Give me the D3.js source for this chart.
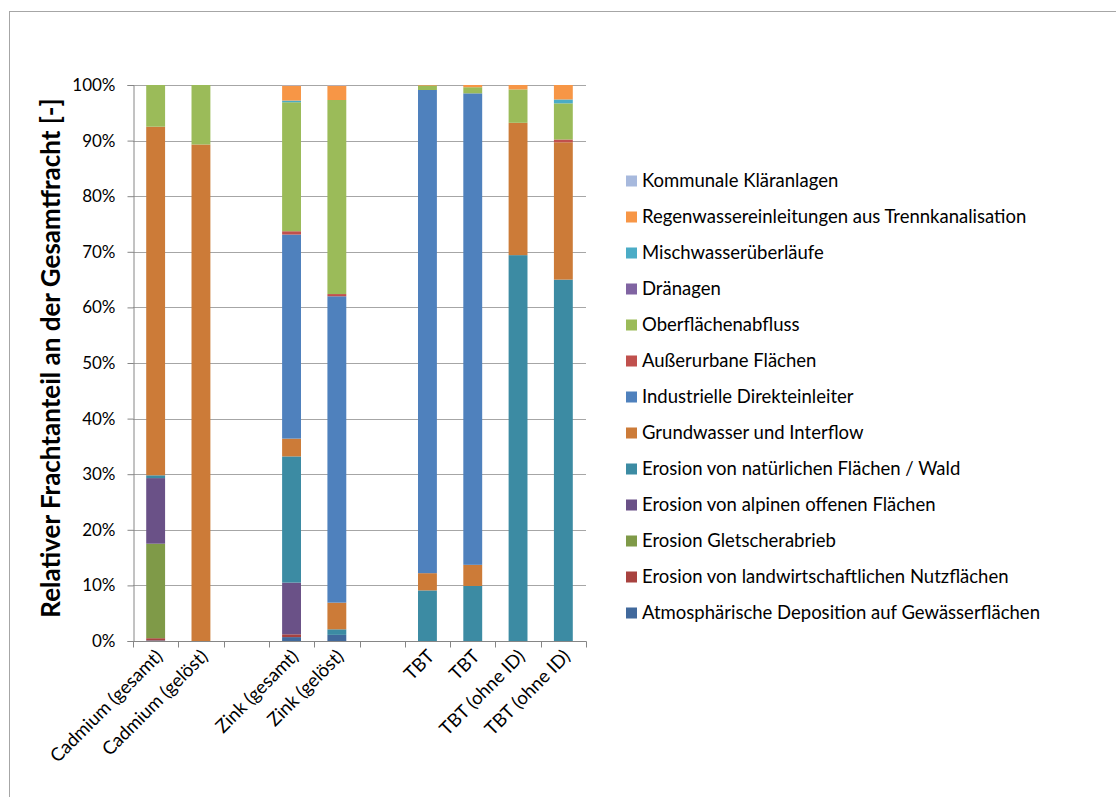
<!DOCTYPE html>
<html>
<head>
<meta charset="utf-8">
<script src="https://cdn.jsdelivr.net/npm/d3@7"></script>
<style>
  html, body { margin: 0; padding: 0; background: #fff; }
  svg { display: block; }
  text { font-family: Lato, "Open Sans", sans-serif; fill: #000; }
</style>
</head>
<body>
<svg id="chart" width="1116" height="797"></svg>
<script>
// ---------- data ----------
const categories = ["Cadmium (gesamt)", "Cadmium (gelöst)", "", "Zink (gesamt)", "Zink (gelöst)", "", "TBT", "TBT", "TBT (ohne ID)", "TBT (ohne ID)"];

// series listed bottom-to-top in stacking order (values in %)
const atmosphaerisch   = [0.1, 0,    0, 0.7,  1.1,  0, 0,    0,    0,    0];
const landwirtschaft   = [0.4, 0,    0, 0.5,  0,    0, 0,    0,    0,    0];
const gletscher        = [17.0, 0,   0, 0,    0,    0, 0,    0,    0,    0];
const alpin            = [11.8, 0,   0, 9.3,  0,    0, 0,    0,    0,    0];
const natuerlich       = [0.5, 0,    0, 22.7, 1.0,  0, 9.1,  9.9,  69.4, 65.0];
const grundwasser      = [62.7, 89.3, 0, 3.2, 4.8,  0, 3.1,  3.8,  23.8, 24.7];
const industrie        = [0,   0,    0, 36.7, 55.1, 0, 86.9, 84.8, 0,    0];
const ausserurban      = [0,   0,    0, 0.6,  0.4,  0, 0,    0,    0,    0.5];
const oberflaeche      = [7.5, 10.7, 0, 23.2, 34.9, 0, 0.8,  1.1,  6.0,  6.5];
const draenagen        = [0,   0,    0, 0,    0,    0, 0,    0,    0,    0];
const mischwasser      = [0,   0,    0, 0.3,  0,    0, 0,    0,    0,    0.7];
const regenwasser      = [0,   0,    0, 2.7,  2.6,  0, 0.1,  0.4,  0.8,  2.6];
const kommunal         = [0,   0,    0, 0.1,  0.1,  0, 0,    0,    0,    0];

const seriesNames = [
  "Atmosphärische Deposition auf Gewässerflächen",
  "Erosion von landwirtschaftlichen Nutzflächen",
  "Erosion Gletscherabrieb",
  "Erosion von alpinen offenen Flächen",
  "Erosion von natürlichen Flächen / Wald",
  "Grundwasser und Interflow",
  "Industrielle Direkteinleiter",
  "Außerurbane Flächen",
  "Oberflächenabfluss",
  "Dränagen",
  "Mischwasserüberläufe",
  "Regenwassereinleitungen aus Trennkanalisation",
  "Kommunale Kläranlagen"
];
const seriesValues = [atmosphaerisch, landwirtschaft, gletscher, alpin, natuerlich, grundwasser,
  industrie, ausserurban, oberflaeche, draenagen, mischwasser, regenwasser, kommunal];
const seriesColors = ["#41699c", "#a8423f", "#7f9a48", "#6a5187", "#3c8ba3", "#cc7b38",
  "#4f81bd", "#c0504d", "#9bbb59", "#8064a2", "#4bacc6", "#f79646", "#a7b9dd"];

const yTicks = [0, 10, 20, 30, 40, 50, 60, 70, 80, 90, 100];
const yTitle = "Relativer Frachtanteil an der Gesamtfracht [-]";

// ---------- layout ----------
const svg = d3.select("#chart");
const plot = { left: 133, right: 586, top: 85, bottom: 641 };

// chart border (extends beyond the viewport)
svg.append("rect").attr("x", 9.5).attr("y", 11.5).attr("width", 1200).attr("height", 900)
  .attr("fill", "none").attr("stroke", "#a6a6a6").attr("stroke-width", 1);

const x = d3.scaleBand().domain(d3.range(categories.length))
  .range([plot.left, plot.right]).paddingInner(1.4 / 2.4).paddingOuter(0.7 / 2.4);
const slot = (plot.right - plot.left) / categories.length;
const y = d3.scaleLinear().domain([0, 100]).range([plot.bottom, plot.top]);

// gridlines
svg.append("g").selectAll("line").data(yTicks.filter(d => d > 0)).join("line")
  .attr("x1", plot.left).attr("x2", plot.right)
  .attr("y1", d => Math.round(y(d)) + 0.5).attr("y2", d => Math.round(y(d)) + 0.5)
  .attr("stroke", "#a6a6a6").attr("stroke-width", 1);

// stacked data
const table = categories.map((c, i) => {
  const o = { idx: i };
  seriesNames.forEach((s, k) => { o[s] = seriesValues[k][i]; });
  return o;
});
const stack = d3.stack().keys(seriesNames);
const stacked = stack(table);

svg.append("g").selectAll("g").data(stacked).join("g")
  .attr("fill", (d, k) => seriesColors[k])
  .selectAll("rect").data(d => d.filter(p => p[1] - p[0] > 0)).join("rect")
  .attr("x", d => x(d.data.idx))
  .attr("width", x.bandwidth())
  .attr("y", d => y(d[1]))
  .attr("height", d => y(d[0]) - y(d[1]));

// y axis
const yAxis = d3.axisLeft(y).tickValues(yTicks).tickFormat(d => d + "%").tickSize(6).tickPadding(12);
const gy = svg.append("g").attr("transform", `translate(${plot.left + 0.5},0)`).call(yAxis);
gy.select(".domain").attr("stroke", "#868686");
gy.selectAll(".tick line").attr("stroke", "#868686");
gy.selectAll(".tick text").attr("font-size", 17).attr("font-family", "Lato, sans-serif").attr("fill", "#000");

// x axis (ticks at category boundaries)
const gx = svg.append("g").attr("transform", `translate(0,${plot.bottom + 0.5})`);
gx.append("line").attr("x1", plot.left).attr("x2", plot.right + 0.5).attr("stroke", "#868686");
gx.selectAll("line.tk").data(d3.range(categories.length + 1)).join("line").attr("class", "tk")
  .attr("x1", i => Math.round(plot.left + i * slot) + 0.5).attr("x2", i => Math.round(plot.left + i * slot) + 0.5)
  .attr("y1", 0).attr("y2", 6).attr("stroke", "#868686");
gx.selectAll("text").data(categories.map((c, i) => ({ c, i })).filter(d => d.c !== "")).join("text")
  .attr("text-anchor", "end")
  .attr("font-size", 18.5)
  .attr("transform", d => `translate(${x(d.i) + x.bandwidth() / 2 + 8},${16}) rotate(-45)`)
  .text(d => d.c);

// y title
svg.append("text")
  .attr("transform", `translate(60,358) rotate(-90)`)
  .attr("text-anchor", "middle")
  .attr("font-size", 26).attr("font-weight", "bold")
  .text(yTitle);

// legend (reverse order: top entry is the last series)
const legendItems = seriesNames.map((s, k) => ({ s, c: seriesColors[k] })).reverse();
const lg = svg.append("g");
const row = lg.selectAll("g").data(legendItems).join("g")
  .attr("transform", (d, i) => `translate(626,${181 + i * 36})`);
row.append("rect").attr("x", 0).attr("y", -5.5).attr("width", 11).attr("height", 11).attr("fill", d => d.c);
row.append("text").attr("x", 16).attr("y", 0).attr("dy", "0.35em").attr("font-size", 18.5).text(d => d.s);
</script>
</body>
</html>
